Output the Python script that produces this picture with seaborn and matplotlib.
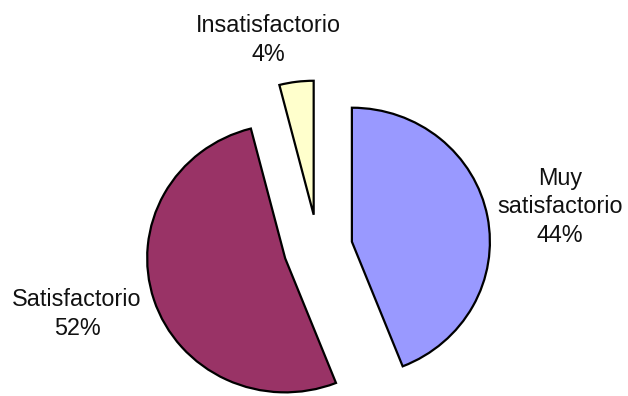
import matplotlib
matplotlib.use('Agg')
import matplotlib.pyplot as plt
import seaborn as sns

sns.set_style('white')
plt.rcParams['font.family'] = ['Liberation Sans', 'DejaVu Sans']

categorias = ['Muy\nsatisfactorio', 'Satisfactorio', 'Insatisfactorio']
porcentajes = [44, 52, 4]
colores = ['#9999FF', '#993366', '#FFFFCC']
explode = [0.25, 0.25, 0.25]
# label centres (in pie units, radius = 1)
pos_etiquetas = [(1.754, 0.306), (-1.746, -0.493), (-0.362, 1.552)]

fig = plt.figure(figsize=(6.28, 3.96), dpi=100)
ax = fig.add_axes([0, 0, 1, 1])

wedges, texts = ax.pie(porcentajes, colors=colores, explode=explode,
                       startangle=90, counterclock=False,
                       labels=[f'{c}\n{p}%' for c, p in zip(categorias, porcentajes)],
                       wedgeprops={'edgecolor': 'black', 'linewidth': 1.6},
                       textprops={'fontsize': 16.8, 'color': '#111111'})
for t, (x, y) in zip(texts, pos_etiquetas):
    t.set_position((x, y))
    t.set_horizontalalignment('center')
    t.set_verticalalignment('center')
    t.set_multialignment('center')
    t.set_linespacing(1.33)

# Excel pie is slightly wider than tall: 138 px/unit across, 134 px/unit down
ax.set_xlim(-318 / 138, (628 - 318) / 138)
ax.set_ylim(-(396 - 248) / 134, 248 / 134)
ax.set_aspect('auto')
ax.axis('off')

fig.savefig('out.png', dpi=100, facecolor='white')
